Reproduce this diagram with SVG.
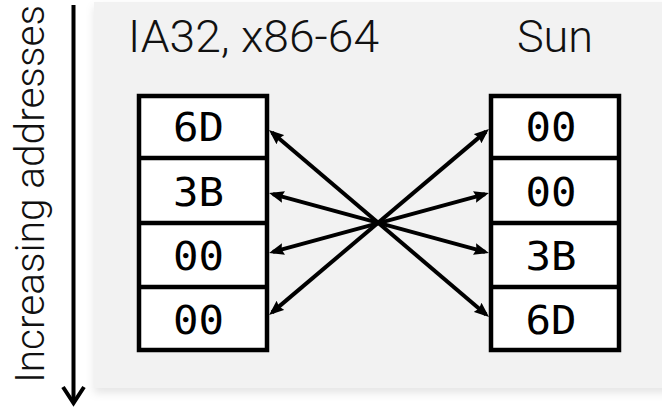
<svg xmlns="http://www.w3.org/2000/svg" width="662" height="407" viewBox="0 0 662 407">
<style>
.title{font-family:Roboto,"Liberation Sans",sans-serif;font-weight:300;font-size:45px;fill:#111;}
.side{font-family:Roboto,"Liberation Sans",sans-serif;font-weight:300;font-size:40px;fill:#111;}
.cell{fill:#fff;stroke:#000;stroke-width:4.5;}
.div{stroke:#000;stroke-width:4.5;}
.val{font-family:"DejaVu Sans Mono","Liberation Mono",monospace;font-size:39px;fill:#000;text-anchor:middle;}
.conn{stroke:#000;stroke-width:4;fill:none;marker-start:url(#ah);marker-end:url(#ah);}
</style>
<defs>
<marker id="ah" markerUnits="userSpaceOnUse" markerWidth="16" markerHeight="12" refX="11" refY="6" orient="auto-start-reverse" viewBox="0 0 16 12">
<path d="M0,0 L15,6 L0,12 L2,6 z" fill="#000"/>
</marker>
<filter id="sh" x="-5%" y="-5%" width="115%" height="115%">
<feDropShadow dx="0" dy="5" stdDeviation="4" flood-color="#000" flood-opacity="0.10"/>
</filter>
</defs>
<rect x="94" y="2" width="580" height="386" fill="#f2f2f2" filter="url(#sh)"/>
<g id="axis">
<text class="side" transform="translate(44,383) rotate(-90)" textLength="378" lengthAdjust="spacingAndGlyphs">Increasing addresses</text>
<line x1="73.5" y1="5" x2="73.5" y2="402" stroke="#000" stroke-width="4"/>
<polyline points="63,387 73.5,403 84,387" fill="none" stroke="#000" stroke-width="4"/>
</g>
<g id="title-left"><text class="title" x="128" y="52" textLength="251" lengthAdjust="spacingAndGlyphs">IA32, x86-64</text></g>
<g id="title-right"><text class="title" x="555" y="52" text-anchor="middle">Sun</text></g>
<g id="left-bytes">
<rect class="cell" x="139" y="96" width="128" height="254"/>
<line class="div" x1="139" y1="158" x2="267" y2="158"/>
<line class="div" x1="139" y1="223" x2="267" y2="223"/>
<line class="div" x1="139" y1="287" x2="267" y2="287"/>
<text class="val" x="198.5" y="141" textLength="51" lengthAdjust="spacingAndGlyphs">6D</text>
<text class="val" x="198.5" y="206" textLength="51" lengthAdjust="spacingAndGlyphs">3B</text>
<text class="val" x="198.5" y="270" textLength="51" lengthAdjust="spacingAndGlyphs">00</text>
<text class="val" x="198.5" y="334" textLength="51" lengthAdjust="spacingAndGlyphs">00</text>
</g>
<g id="right-bytes">
<rect class="cell" x="491" y="96" width="128" height="254"/>
<line class="div" x1="491" y1="158" x2="619" y2="158"/>
<line class="div" x1="491" y1="223" x2="619" y2="223"/>
<line class="div" x1="491" y1="287" x2="619" y2="287"/>
<text class="val" x="551" y="141" textLength="51" lengthAdjust="spacingAndGlyphs">00</text>
<text class="val" x="551" y="206" textLength="51" lengthAdjust="spacingAndGlyphs">00</text>
<text class="val" x="551" y="270" textLength="51" lengthAdjust="spacingAndGlyphs">3B</text>
<text class="val" x="551" y="334" textLength="51" lengthAdjust="spacingAndGlyphs">6D</text>
</g>
<g id="connectors">
<line class="conn" x1="272" y1="132.6" x2="486" y2="314.4"/>
<line class="conn" x1="272.9" y1="194.1" x2="485.1" y2="251.9"/>
<line class="conn" x1="272.9" y1="251.9" x2="485.1" y2="194.1"/>
<line class="conn" x1="272.1" y1="312.4" x2="485.9" y2="131.6"/>
</g>
</svg>
